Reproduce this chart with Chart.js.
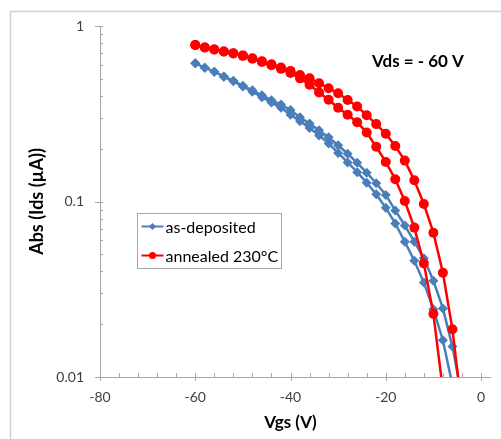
<!DOCTYPE html>
<html>
<head>
<meta charset="utf-8">
<script src="https://cdn.jsdelivr.net/npm/chart.js@4.4.1/dist/chart.umd.min.js"></script>
<style>
  html, body { margin: 0; padding: 0; background: #ffffff; }
  canvas { display: block; }
</style>
</head>
<body>
<canvas id="transfer" width="501" height="439"></canvas>
<script>
// Gate voltage steps (V); each branch of the sweep uses the leading part of this list
const vgsSteps = [-60, -58, -56, -54, -52, -50, -48, -46, -44, -42, -40, -38, -36, -34, -32,
                  -30, -28, -26, -24, -22, -20, -18, -16, -14, -12, -10, -8, -6, -4];

// |Ids| in µA, as-deposited film: higher-current branch and lower-current branch of the loop
const asDepositedUpper = [0.613, 0.579, 0.549, 0.516, 0.487, 0.457, 0.430, 0.403, 0.378, 0.357,
                          0.332, 0.302, 0.278, 0.255, 0.232, 0.209, 0.187, 0.166, 0.146, 0.127,
                          0.109, 0.089, 0.073, 0.059, 0.0475, 0.0354, 0.0246, 0.0149, 0.0077];
const asDepositedLower = [0.613, 0.579, 0.549, 0.514, 0.484, 0.452, 0.422, 0.393, 0.366, 0.342,
                          0.312, 0.287, 0.262, 0.238, 0.214, 0.189, 0.167, 0.147, 0.128, 0.110,
                          0.092, 0.075, 0.059, 0.046, 0.0345, 0.0243, 0.0162, 0.0090];

// |Ids| in µA, film annealed at 230 °C
const annealedUpper = [0.780, 0.755, 0.735, 0.715, 0.700, 0.680, 0.655, 0.630, 0.605, 0.580,
                       0.555, 0.526, 0.504, 0.472, 0.442, 0.414, 0.379, 0.348, 0.310, 0.276,
                       0.243, 0.207, 0.171, 0.132, 0.0968, 0.0664, 0.0393, 0.0187, 0.0065];
const annealedLower = [0.780, 0.755, 0.735, 0.715, 0.697, 0.676, 0.650, 0.624, 0.597, 0.570,
                       0.540, 0.503, 0.463, 0.418, 0.380, 0.342, 0.312, 0.283, 0.247, 0.205,
                       0.168, 0.134, 0.1007, 0.071, 0.0444, 0.0229, 0.0084];

const seriesNames = ['as-deposited', 'annealed 230°C'];
const xTickStep = 20;
const yTickValues = [0.01, 0.1, 1];
const yMinorFactors = [2, 3, 4, 5, 6, 7, 8, 9];
const xMinorStep = 4;
const biasLabel = 'Vds = - 60 V';

// Closed hysteresis loop: out along the upper branch, back along the lower one
function sweepLoop(upper, lower) {
  const pts = upper.map((v, i) => ({ x: vgsSteps[i], y: v }));
  for (let i = lower.length - 1; i >= 0; i--) pts.push({ x: vgsSteps[i], y: lower[i] });
  return pts;
}

const BLUE = '#4a7ebb';
const RED = '#ff0000';
const AXIS = '#a6a6a6';
const FONT = 'Lato, "Open Sans", sans-serif';

const decorations = {
  id: 'decorations',
  beforeDraw(chart) {
    const { ctx } = chart;
    ctx.save();
    ctx.fillStyle = '#ffffff';
    ctx.fillRect(0, 0, chart.width, chart.height);
    // frame around the chart object
    ctx.strokeStyle = '#d0d0d0';
    ctx.lineWidth = 1.5;
    ctx.beginPath();
    ctx.moveTo(10.5, chart.height);
    ctx.lineTo(10.5, 11.5);
    ctx.lineTo(chart.width, 11.5);
    ctx.stroke();
    ctx.restore();
  },
  afterDatasetsDraw(chart) {
    const { ctx, chartArea: a, scales: { x, y } } = chart;
    ctx.save();
    ctx.strokeStyle = AXIS;
    ctx.lineWidth = 1;
    // axis lines
    ctx.beginPath();
    ctx.moveTo(a.left + 0.5, a.top);
    ctx.lineTo(a.left + 0.5, a.bottom);
    ctx.moveTo(a.left, a.bottom + 0.5);
    ctx.lineTo(a.right + 10, a.bottom + 0.5);
    ctx.stroke();
    // y ticks: major cross the axis, minor sit inside
    ctx.beginPath();
    yTickValues.forEach(v => {
      const py = Math.round(y.getPixelForValue(v)) + 0.5;
      ctx.moveTo(a.left - 5, py); ctx.lineTo(a.left + 3, py);
    });
    for (let d = 0; d < yTickValues.length - 1; d++) {
      yMinorFactors.forEach(f => {
        const py = Math.round(y.getPixelForValue(yTickValues[d] * f)) + 0.5;
        ctx.moveTo(a.left, py); ctx.lineTo(a.left + 3, py);
      });
    }
    // x ticks
    for (let v = x.min; v <= x.max; v += xMinorStep) {
      const px = Math.round(x.getPixelForValue(v)) + 0.5;
      if (v % xTickStep === 0) { ctx.moveTo(px, a.bottom - 4); ctx.lineTo(px, a.bottom + 4); }
      else { ctx.moveTo(px, a.bottom - 4); ctx.lineTo(px, a.bottom); }
    }
    ctx.stroke();

    // bias condition
    ctx.fillStyle = '#000000';
    ctx.font = 'bold 17px ' + FONT;
    ctx.textBaseline = 'middle';
    ctx.textAlign = 'left';
    ctx.fillText(biasLabel, 372, 62);

    // legend
    const bx = 137.5, by = 213.5, bw = 144, bh = 55;
    ctx.fillStyle = '#ffffff';
    ctx.fillRect(bx, by, bw, bh);
    ctx.strokeStyle = AXIS;
    ctx.strokeRect(bx, by, bw, bh);
    chart.data.datasets.forEach((ds, i) => {
      const ly = by + 13 + i * 29;
      ctx.strokeStyle = ds.borderColor;
      ctx.lineWidth = 2;
      ctx.beginPath();
      ctx.moveTo(bx + 4, ly); ctx.lineTo(bx + 26, ly);
      ctx.stroke();
      ctx.fillStyle = ds.backgroundColor;
      ctx.beginPath();
      if (ds.pointStyle === 'rectRot') {
        ctx.moveTo(bx + 15, ly - 3.5); ctx.lineTo(bx + 18.5, ly);
        ctx.lineTo(bx + 15, ly + 3.5); ctx.lineTo(bx + 11.5, ly);
        ctx.closePath();
      } else {
        ctx.arc(bx + 15, ly, 3.5, 0, Math.PI * 2);
      }
      ctx.fill();
      ctx.fillStyle = '#000000';
      ctx.font = '16px ' + FONT;
      ctx.fillText(ds.label, bx + 28, ly + 1);
    });
    ctx.restore();
  }
};

new Chart(document.getElementById('transfer'), {
  type: 'scatter',
  data: {
    datasets: [
      {
        label: seriesNames[0],
        data: sweepLoop(asDepositedUpper, asDepositedLower),
        showLine: true,
        borderColor: BLUE,
        backgroundColor: BLUE,
        borderWidth: 2.5,
        pointStyle: 'rectRot',
        pointRadius: 5,
        pointBorderWidth: 0,
        order: 1
      },
      {
        label: seriesNames[1],
        data: sweepLoop(annealedUpper, annealedLower),
        showLine: true,
        borderColor: RED,
        backgroundColor: RED,
        borderWidth: 2.5,
        pointStyle: 'circle',
        pointRadius: 5,
        pointBorderWidth: 0,
        order: 0
      }
    ]
  },
  options: {
    responsive: false,
    animation: false,
    events: [],
    layout: { padding: { top: 26, right: 20, left: 0, bottom: 0 } },
    plugins: { legend: { display: false }, tooltip: { enabled: false } },
    scales: {
      x: {
        type: 'linear',
        min: -80,
        max: 0,
        grid: { display: false, drawTicks: false },
        border: { display: false },
        ticks: {
          stepSize: xTickStep,
          padding: 12,
          color: '#404040',
          font: { family: FONT, size: 14 },
          callback: v => String(v)
        },
        title: {
          display: true,
          text: 'Vgs (V)',
          color: '#000000',
          font: { family: FONT, size: 17, weight: 'bold' },
          padding: { top: 0, bottom: 6 }
        },
        afterFit: s => { s.height = 62; }
      },
      y: {
        type: 'logarithmic',
        min: 0.01,
        max: 1,
        grid: { display: false, drawTicks: false },
        border: { display: false },
        afterBuildTicks: s => { s.ticks = yTickValues.map(v => ({ value: v })); },
        ticks: {
          padding: 16,
          color: '#404040',
          font: { family: FONT, size: 14 },
          callback: v => String(v)
        },
        title: {
          display: true,
          text: 'Abs (Ids (µA))',
          color: '#000000',
          font: { family: FONT, size: 18, weight: 'bold' },
          padding: { top: 26, bottom: 0 }
        },
        afterFit: s => { s.width = 100; }
      }
    }
  },
  plugins: [decorations]
});
</script>
</body>
</html>
